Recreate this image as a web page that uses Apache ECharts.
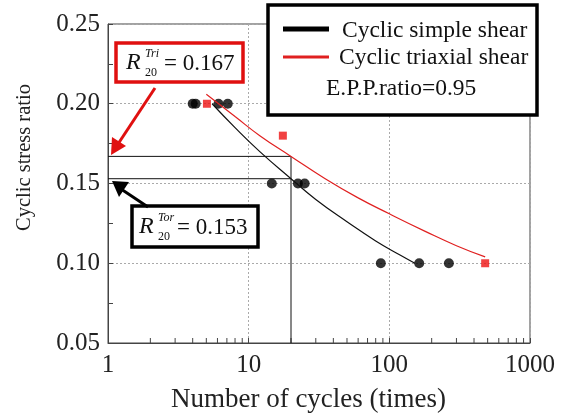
<!DOCTYPE html>
<html>
<head>
<meta charset="utf-8">
<script src="https://cdn.jsdelivr.net/npm/echarts@6/dist/echarts.min.js"></script>
<style>
  html, body { margin: 0; padding: 0; background: #fff; }
  #main { width: 561px; height: 414px; }
</style>
</head>
<body>
<div id="main"></div>
<script>
// measured points (cycles, stress ratio)
var simpleShearPts = [[4, 0.20], [4.2, 0.20], [6.1, 0.20], [7.1, 0.20],
  [14.6, 0.15], [22.4, 0.15], [25, 0.15],
  [87, 0.10], [163, 0.10], [265, 0.10]];
var triaxialPts = [[5.05, 0.20], [17.5, 0.18], [480, 0.10]];

// fitted curves
var simpleShearFit = [[5.5, 0.200], [8, 0.185], [12, 0.170], [20, 0.153], [30, 0.140],
  [50, 0.126], [80, 0.114], [120, 0.105], [152, 0.100]];
var triaxialFit = [[5, 0.206], [8, 0.192], [12, 0.180], [20, 0.167], [35, 0.153],
  [60, 0.141], [100, 0.131], [180, 0.120], [300, 0.111], [480, 0.104]];

var N20 = 20;
var R20Tri = 0.167;
var R20Tor = 0.153;

var yTicks = [0.05, 0.10, 0.15, 0.20, 0.25];
var xTicks = [1, 10, 100, 1000];

var serif = 'Liberation Serif';
var myChart = echarts.init(document.getElementById('main'));

var option = {
  animation: false,
  textStyle: { fontFamily: serif },
  grid: {
    left: 108, right: 31, top: 24, bottom: 71,
    outerBoundsMode: 'none', containLabel: false,
    show: true, borderColor: '#444', borderWidth: 1
  },
  xAxis: {
    type: 'log', logBase: 10, min: xTicks[0], max: xTicks[xTicks.length - 1],
    name: 'Number of cycles (times)',
    nameLocation: 'middle', nameGap: 43,
    nameTextStyle: { fontSize: 27, color: '#222', fontFamily: serif, padding: [0, 21, 0, 0] },
    axisLine: { lineStyle: { color: '#444' } },
    axisTick: { inside: true, length: 5, lineStyle: { color: '#444' } },
    axisLabel: {
      fontSize: 25, color: '#222', fontFamily: serif, margin: 10,
      formatter: function (v) { return String(v); }
    },
    splitLine: { show: true, lineStyle: { color: '#aaa', type: [2, 2] } }
  },
  yAxis: {
    type: 'value', min: yTicks[0], max: yTicks[yTicks.length - 1], interval: 0.05,
    name: 'Cyclic stress ratio',
    nameLocation: 'middle', nameGap: 73,
    nameTextStyle: { fontSize: 20.5, color: '#222', fontFamily: serif, padding: [0, 0, 0, 52] },
    axisLine: { show: true, lineStyle: { color: '#444' } },
    axisTick: { show: true, inside: true, length: 5, lineStyle: { color: '#444' } },
    minorTick: { show: true, splitNumber: 2, length: 5, lineStyle: { color: '#444' } },
    axisLabel: {
      fontSize: 25, color: '#222', fontFamily: serif, margin: 8,
      formatter: function (v) { return v.toFixed(2); }
    },
    splitLine: { show: true, lineStyle: { color: '#aaa', type: [2, 2] } }
  },
  series: [
    {
      name: 'R20 lines', type: 'line', symbol: 'none', silent: true,
      lineStyle: { color: '#111', width: 1 },
      data: [[1, R20Tri], [N20, R20Tri], [N20, 0.05]]
    },
    {
      name: 'R20 tor', type: 'line', symbol: 'none', silent: true,
      lineStyle: { color: '#111', width: 1 },
      data: [[1, R20Tor], [N20, R20Tor]]
    },
    {
      name: 'Cyclic simple shear fit', type: 'line', smooth: true, symbol: 'none',
      lineStyle: { color: '#111', width: 1.2 },
      data: simpleShearFit
    },
    {
      name: 'Cyclic triaxial shear fit', type: 'line', smooth: true, symbol: 'none',
      lineStyle: { color: '#e02020', width: 1.2 },
      data: triaxialFit
    },
    {
      name: 'Cyclic simple shear', type: 'scatter', symbol: 'circle', symbolSize: 10,
      itemStyle: { color: '#000' },
      data: simpleShearPts
    },
    {
      name: 'Cyclic triaxial shear', type: 'scatter', symbol: 'rect', symbolSize: 8,
      itemStyle: { color: '#ee1111' },
      data: triaxialPts
    }
  ]
};
myChart.setOption(option);

// log minor ticks (2..9 per decade), placed with the axis scale
var minor = [];
var yBase = myChart.convertToPixel({ yAxisIndex: 0 }, yTicks[0]);
for (var d = 1; d < 1000; d *= 10) {
  for (var k = 2; k <= 9; k++) {
    var px = myChart.convertToPixel({ xAxisIndex: 0 }, d * k);
    minor.push({
      type: 'line', silent: true,
      shape: { x1: px, y1: yBase, x2: px, y2: yBase - 5 },
      style: { stroke: '#444', lineWidth: 1 }
    });
  }
}

// R with stacked super/subscript, then "= value"
function rLabel(x, y, sup, rest) {
  return [
    { type: 'text', x: x, y: y, z: 102, style: { text: 'R', font: 'italic 24px ' + serif, fill: '#111', textVerticalAlign: 'middle' } },
    { type: 'text', x: x + 19, y: y - 9, z: 102, style: { text: sup, font: 'italic 12px ' + serif, fill: '#111', textVerticalAlign: 'middle' } },
    { type: 'text', x: x + 19, y: y + 10, z: 102, style: { text: '20', font: '12px ' + serif, fill: '#111', textVerticalAlign: 'middle' } },
    { type: 'text', x: x + 38, y: y + 1, z: 102, style: { text: rest, font: '23px ' + serif, fill: '#111', textVerticalAlign: 'middle' } }
  ];
}

var annot = [
  // legend box
  { type: 'rect', z: 100, shape: { x: 268, y: 5, width: 269, height: 110 }, style: { fill: '#fff', stroke: '#000', lineWidth: 3.5 } },
  { type: 'line', z: 101, shape: { x1: 283, y1: 29, x2: 329, y2: 29 }, style: { stroke: '#000', lineWidth: 5 } },
  { type: 'text', z: 101, x: 342, y: 31, style: { text: 'Cyclic simple shear', font: '23.5px ' + serif, fill: '#111', textVerticalAlign: 'middle' } },
  { type: 'line', z: 101, shape: { x1: 283, y1: 57, x2: 329, y2: 57 }, style: { stroke: '#e02020', lineWidth: 3 } },
  { type: 'text', z: 101, x: 339, y: 58, style: { text: 'Cyclic triaxial shear', font: '23.5px ' + serif, fill: '#111', textVerticalAlign: 'middle' } },
  { type: 'text', z: 101, x: 326, y: 89, style: { text: 'E.P.P.ratio=0.95', font: '23.5px ' + serif, fill: '#111', textVerticalAlign: 'middle' } },
  // red box
  { type: 'rect', z: 100, shape: { x: 116, y: 43, width: 127, height: 39 }, style: { fill: '#fff', stroke: '#e01010', lineWidth: 3.5 } },
  // black box
  { type: 'rect', z: 100, shape: { x: 132, y: 206, width: 126, height: 41 }, style: { fill: '#fff', stroke: '#000', lineWidth: 3.5 } },
  // red arrow
  { type: 'line', z: 100, shape: { x1: 155, y1: 88, x2: 118, y2: 144 }, style: { stroke: '#e01010', lineWidth: 3 } },
  { type: 'polygon', z: 100, shape: { points: [[111, 155], [112, 137], [126, 146]] }, style: { fill: '#e01010' } },
  // black arrow
  { type: 'line', z: 100, shape: { x1: 148, y1: 207, x2: 121, y2: 189 }, style: { stroke: '#000', lineWidth: 3 } },
  { type: 'polygon', z: 100, shape: { points: [[112, 181], [129, 182], [119, 197]] }, style: { fill: '#000' } }
].concat(rLabel(126, 63, 'Tri', '= 0.167'), rLabel(139, 227, 'Tor', '= 0.153'));

myChart.setOption({ graphic: minor.concat(annot) });
</script>
</body>
</html>
